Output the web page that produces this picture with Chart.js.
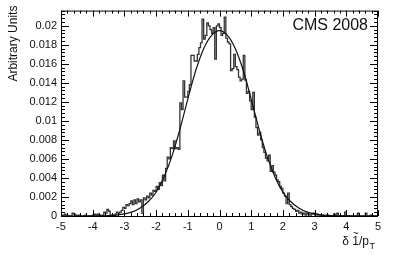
<!DOCTYPE html>
<html>
<head>
<meta charset="utf-8">
<script src="https://cdn.jsdelivr.net/npm/chart.js@4.4.1/dist/chart.umd.min.js"></script>
<style>
    html, body { margin: 0; padding: 0; background: #fff; }
    #wrap { width: 399px; height: 255px; }
</style>
</head>
<body>
<div id="wrap"><canvas id="resChart" width="399" height="255"></canvas></div>
<script>
// Histogram binning: 200 bins from -5 to 5
const binStart = -5;
const binWidth = 0.05;

// Bin contents (arbitrary units)
const histValues = [
    // -5 .. -4
    0, 0.0001, 0, 0.0002, 0.0001, 0, 0, 0, 0.0003, 0.0002,
    0.0001, 0, 0.0001, 0, 0, 0, 0.0001, 0, 0, 0,
    // -4 .. -3
    0, 0.0001, 0.0002, 0.0001, 0.0002, 0.0001, 0, 0.0001, 0.0004, 0.0003,
    0.0007, 0.0005, 0.0001, 0, 0.0001, 0.0002, 0.0004, 0.0003, 0.0004, 0.0006,
    // -3 .. -2
    0.0009, 0.0008, 0.0012, 0.0011, 0.0013, 0.0016, 0.0012, 0.0017, 0.0013, 0.0018,
    0.0015, 0.0017, 0.0003, 0.0019, 0.0017, 0.0021, 0.0019, 0.0024, 0.0022, 0.0027,
    // -2 .. -1
    0.0026, 0.0031, 0.0028, 0.0035, 0.0032, 0.0043, 0.0037, 0.0050, 0.0062, 0.0060,
    0.0072, 0.0071, 0.0079, 0.0071, 0.0072, 0.0070, 0.0119, 0.0112, 0.0142, 0.0125,
    // -1 .. 0
    0.0125, 0.0131, 0.0138, 0.0169, 0.0169, 0.0163, 0.0163, 0.0170, 0.0177, 0.0182,
    0.0207, 0.0186, 0.0190, 0.0203, 0.0200, 0.0196, 0.0192, 0.0198, 0.0165, 0.0200,
    // 0 .. 1
    0.0202, 0.0198, 0.0190, 0.0192, 0.0209, 0.0187, 0.0183, 0.0181, 0.0153, 0.0155,
    0.0170, 0.0157, 0.0154, 0.0146, 0.0142, 0.0144, 0.0169, 0.0143, 0.0129, 0.0131,
    // 1 .. 2
    0.0121, 0.0112, 0.0130, 0.0104, 0.0093, 0.0085, 0.0088, 0.0080, 0.0072, 0.0067,
    0.0061, 0.0058, 0.0064, 0.0047, 0.0053, 0.0046, 0.0043, 0.0038, 0.0036, 0.0031,
    // 2 .. 3
    0.0029, 0.0024, 0.0021, 0.0013, 0.0024, 0.0012, 0.0010, 0.0008, 0.0007, 0.0005,
    0.0006, 0.0003, 0.0004, 0.0002, 0.0003, 0.0001, 0.0003, 0.0002, 0.0001, 0.0002,
    // 3 .. 4
    0.0003, 0.0001, 0.0002, 0.0001, 0.0001, 0, 0.0001, 0, 0, 0.0001,
    0, 0, 0, 0.0002, 0.0001, 0.0003, 0, 0, 0, 0,
    // 4 .. 5
    0.0004, 0, 0, 0, 0, 0, 0, 0, 0.0003, 0,
    0, 0, 0, 0.0003, 0, 0, 0.0001, 0, 0, 0
];

// Fit curve, sampled every 0.25
const fitX = [
    -5, -4.75, -4.5, -4.25, -4, -3.75, -3.5, -3.25, -3, -2.75,
    -2.5, -2.25, -2, -1.75, -1.5, -1.25, -1, -0.75, -0.5, -0.25,
    0,
    0.25, 0.5, 0.75, 1, 1.25, 1.5, 1.75, 2, 2.25, 2.5,
    2.75, 3, 3.25, 3.5, 3.75, 4, 4.25, 4.5, 4.75, 5
];
const fitY = [
    0, 0, 0, 0, 0.00001, 0.00002, 0.00004, 0.0001, 0.00022, 0.00044,
    0.00085, 0.0015, 0.0025, 0.0041, 0.0063, 0.0091, 0.0123, 0.0153, 0.0176, 0.0190,
    0.0195,
    0.0190, 0.0176, 0.0153, 0.0123, 0.0091, 0.0063, 0.0041, 0.0025, 0.0015, 0.00085,
    0.00044, 0.00022, 0.0001, 0.00004, 0.00002, 0.00001, 0, 0, 0, 0
];

const xTicks = [-5, -4, -3, -2, -1, 0, 1, 2, 3, 4, 5];
const yTicks = [0, 0.002, 0.004, 0.006, 0.008, 0.01, 0.012, 0.014, 0.016, 0.018, 0.02];

const xRange = [-5, 5];
const yRange = [0, 0.0216];

// step histogram points (left edges + closing edge)
const histPoints = histValues.map((v, i) => ({ x: binStart + i * binWidth, y: v }));
histPoints.push({ x: binStart + histValues.length * binWidth, y: histValues[histValues.length - 1] });

const fitPoints = fitX.map((x, i) => ({ x: x, y: fitY[i] }));

const FONT = '"Liberation Sans", Arial, Helvetica, sans-serif';

// ROOT-like frame with inward ticks, titles and label
const rootFrame = {
    id: 'rootFrame',
    afterDraw(chart) {
        const { ctx, chartArea: a, scales } = chart;
        const xs = scales.x, ys = scales.y;
        ctx.save();
        ctx.strokeStyle = '#000';
        ctx.lineWidth = 1;
        ctx.strokeRect(a.left + 0.5, a.top + 0.5, a.right - a.left - 1, a.bottom - a.top);

        ctx.beginPath();
        // x ticks every 0.2, major every 1
        for (let k = 0; k <= 50; k++) {
            const px = Math.round(xs.getPixelForValue(xRange[0] + k * 0.2)) + 0.5;
            const len = k % 5 === 0 ? 6 : 3;
            ctx.moveTo(px, a.bottom);
            ctx.lineTo(px, a.bottom - len);
            ctx.moveTo(px, a.top);
            ctx.lineTo(px, a.top + len);
        }
        // y ticks every 0.0004, major every 0.002
        for (let k = 0; k * 0.0004 <= yRange[1] + 1e-9; k++) {
            const py = Math.round(ys.getPixelForValue(k * 0.0004)) + 0.5;
            const len = k % 5 === 0 ? 8 : 4;
            ctx.moveTo(a.left, py);
            ctx.lineTo(a.left + len, py);
            ctx.moveTo(a.right, py);
            ctx.lineTo(a.right - len, py);
        }
        ctx.stroke();

        ctx.fillStyle = '#111';
        // y title, aligned to the top of the axis
        ctx.save();
        ctx.translate(17, a.top - 5);
        ctx.rotate(-Math.PI / 2);
        ctx.font = '12px ' + FONT;
        ctx.textAlign = 'right';
        ctx.textBaseline = 'alphabetic';
        ctx.fillText('Arbitrary Units', 0, 0);
        ctx.restore();

        // x title: δ 1̃/p_T, aligned to the right end
        ctx.font = '12px ' + FONT;
        ctx.textBaseline = 'alphabetic';
        ctx.textAlign = 'left';
        const partA = 'δ ', partB = '1', partC = '/p';
        const wA = ctx.measureText(partA).width;
        const wB = ctx.measureText(partB).width;
        const wC = ctx.measureText(partC).width;
        const subW = 6;
        const xEnd = a.right - 3;
        const x0 = xEnd - subW - wA - wB - wC;
        const base = 245;
        ctx.fillText(partA, x0, base);
        ctx.fillText(partB, x0 + wA, base);
        ctx.fillText(partC, x0 + wA + wB, base);
        // tilde over the 1
        ctx.font = '10px ' + FONT;
        ctx.textAlign = 'center';
        ctx.fillText('~', x0 + wA + wB / 2, base - 8);
        ctx.textAlign = 'left';
        ctx.font = '9px ' + FONT;
        ctx.fillText('T', xEnd - subW + 0.5, base + 4);

        // experiment label
        ctx.font = '16px ' + FONT;
        ctx.textAlign = 'right';
        ctx.fillText('CMS 2008', a.right - 10, 30);
        ctx.restore();
    }
};

const ctx = document.getElementById('resChart').getContext('2d');
new Chart(ctx, {
    type: 'line',
    data: {
        datasets: [{
            label: 'fit',
            data: fitPoints,
            borderColor: '#111',
            borderWidth: 1.2,
            pointRadius: 0,
            cubicInterpolationMode: 'monotone',
            fill: false,
            order: 0
        }, {
            label: 'histogram',
            data: histPoints,
            borderColor: '#333',
            borderWidth: 1.3,
            pointRadius: 0,
            stepped: 'after',
            fill: false,
            order: 1
        }]
    },
    options: {
        responsive: false,
        animation: false,
        layout: { padding: { left: 0, right: 21, top: 10, bottom: 0 } },
        plugins: {
            legend: { display: false },
            tooltip: { enabled: false }
        },
        scales: {
            x: {
                type: 'linear',
                min: xRange[0],
                max: xRange[1],
                grid: { display: false, drawTicks: false },
                border: { display: false },
                afterBuildTicks: s => { s.ticks = xTicks.map(v => ({ value: v })); },
                afterFit: s => { s.height = 39; },
                ticks: {
                    autoSkip: false,
                    maxRotation: 0,
                    padding: 4,
                    color: '#111',
                    font: { family: FONT, size: 11 }
                }
            },
            y: {
                type: 'linear',
                min: yRange[0],
                max: yRange[1],
                grid: { display: false, drawTicks: false },
                border: { display: false },
                afterBuildTicks: s => { s.ticks = yTicks.map(v => ({ value: v })); },
                afterFit: s => { s.width = 61; },
                ticks: {
                    autoSkip: false,
                    padding: 4,
                    color: '#111',
                    font: { family: FONT, size: 11 },
                    callback: v => v === 0 ? '0' : String(parseFloat(v.toFixed(4)))
                }
            }
        }
    },
    plugins: [rootFrame]
});
</script>
</body>
</html>
